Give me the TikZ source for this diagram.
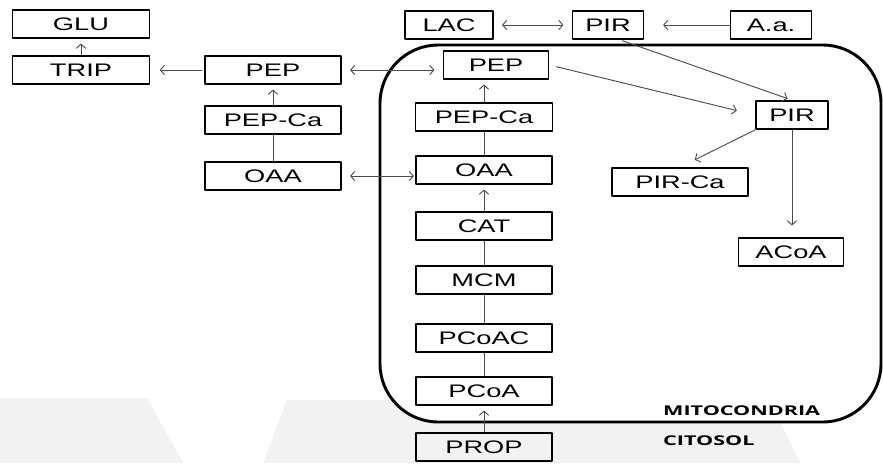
\documentclass[tikz,border=0pt]{standalone}
\usepackage{fontspec}
\newfontfamily\boxfont{Liberation Sans}[FakeStretch=1.5]
\newfontfamily\zonefont{Open Sans}[FakeStretch=1.6]
\usetikzlibrary{arrows.meta}
\begin{document}
\begin{tikzpicture}[x=0.03cm, y=-0.03cm, line join=round, >={Straight Barb[length=3.5pt,width=8pt]},
  box/.style={draw, line width=1.5pt, minimum height=0.84cm, inner sep=0pt, font=\boxfont\fontsize{15.5}{18}\selectfont},
  zone/.style={anchor=base west, inner sep=0pt, font=\zonefont\bfseries\fontsize{11.5}{13}\selectfont},
  link/.style={draw=black!70, line width=0.8pt},
  arr/.style={link, ->, shorten >=4pt},
  dbl/.style={link, <->, shorten >=7pt, shorten <=7pt}]
\def\cx{484}
\useasboundingbox (0,0) rectangle (883,463);
\fill[black!5] (0,398)--(147,398)--(183,463)--(0,463)--cycle;
\fill[black!5] (263,463)--(287,400)--(770,400)--(800,463)--cycle;
\draw[line width=2.5pt, fill=white, rounded corners=1.75cm] (380,45) rectangle (881,422);
\node[zone] (mito) at (663,415) {MITOCONDRIA};
\node[zone] (cito) at (663,445) {CITOSOL};
% citosol
\node[box, minimum width=4.11cm] (glu) at (81,24) {GLU};
\node[box, minimum width=4.11cm] (trip) at (81,70) {TRIP};
\node[box, minimum width=4.08cm] (pepc) at (273,70) {PEP};
\node[box, minimum width=4.08cm] (pepcac) at (273,120) {PEP-Ca};
\node[box, minimum width=4.08cm] (oaac) at (273,176) {OAA};
\node[box, minimum width=2.64cm] (lac) at (449,25) {LAC};
\node[box, minimum width=2.13cm] (pirc) at (608,25) {PIR};
\node[box, minimum width=2.43cm] (aa) at (771,25) {A.a.};
\node[box, minimum width=4.08cm] (prop) at (\cx,447) {PROP};
% mitocondria
\node[box, minimum width=3.15cm] (pepm) at (496,65) {PEP};
\node[box, minimum width=4.11cm] (pepcam) at (\cx,117) {PEP-Ca};
\node[box, minimum width=4.08cm] (oaam) at (\cx,170) {OAA};
\node[box, minimum width=4.08cm] (cat) at (\cx,226) {CAT};
\node[box, minimum width=4.08cm] (mcm) at (\cx,280) {MCM};
\node[box, minimum width=4.08cm] (pcoac) at (\cx,338) {PCoAC};
\node[box, minimum width=4.08cm] (pcoa) at (\cx,391) {PCoA};
\node[box, minimum width=2.16cm] (pirm) at (792,115) {PIR};
\node[box, minimum width=4.08cm] (pirca) at (680,182) {PIR-Ca};
\node[box, minimum width=3.15cm] (acoa) at (791,252) {ACoA};
\draw[arr] (trip) -- (glu);
\draw[arr, shorten <=2pt, shorten >=8pt] (pepc) -- (trip);
\draw[arr] (pepcac) -- (pepc);
\draw[link] (oaac) -- (pepcac);
\draw[dbl] (pepc.east) -- (pepc.east -| pepm.west);
\draw[dbl, shorten >=1pt] (oaac.east) -- (oaac.east -| oaam.west);
\draw[dbl] (lac) -- (pirc);
\draw[arr, shorten >=16pt] (aa) -- (pirc);
\draw[arr, shorten <=2pt] ([xshift=0.36cm]pirc.south) -- (pirm.north);
\draw[arr, shorten <=6pt, shorten >=16pt] (pepm.east) -- (pirm.west);
\draw[arr, shorten >=14pt] (pirm.south west) -- (pirca.north);
\draw[arr, shorten >=10pt] (pirm.south) -- (pirm.south |- acoa.north);
\draw[arr] (pepcam) -- (pepcam |- pepm.south);
\draw[link] (oaam) -- (pepcam);
\draw[arr] (cat) -- (oaam);
\draw[link] (mcm) -- (cat);
\draw[link] (pcoac) -- (mcm);
\draw[link] (pcoa) -- (pcoac);
\draw[arr] (prop) -- (pcoa);
\end{tikzpicture}
\end{document}
